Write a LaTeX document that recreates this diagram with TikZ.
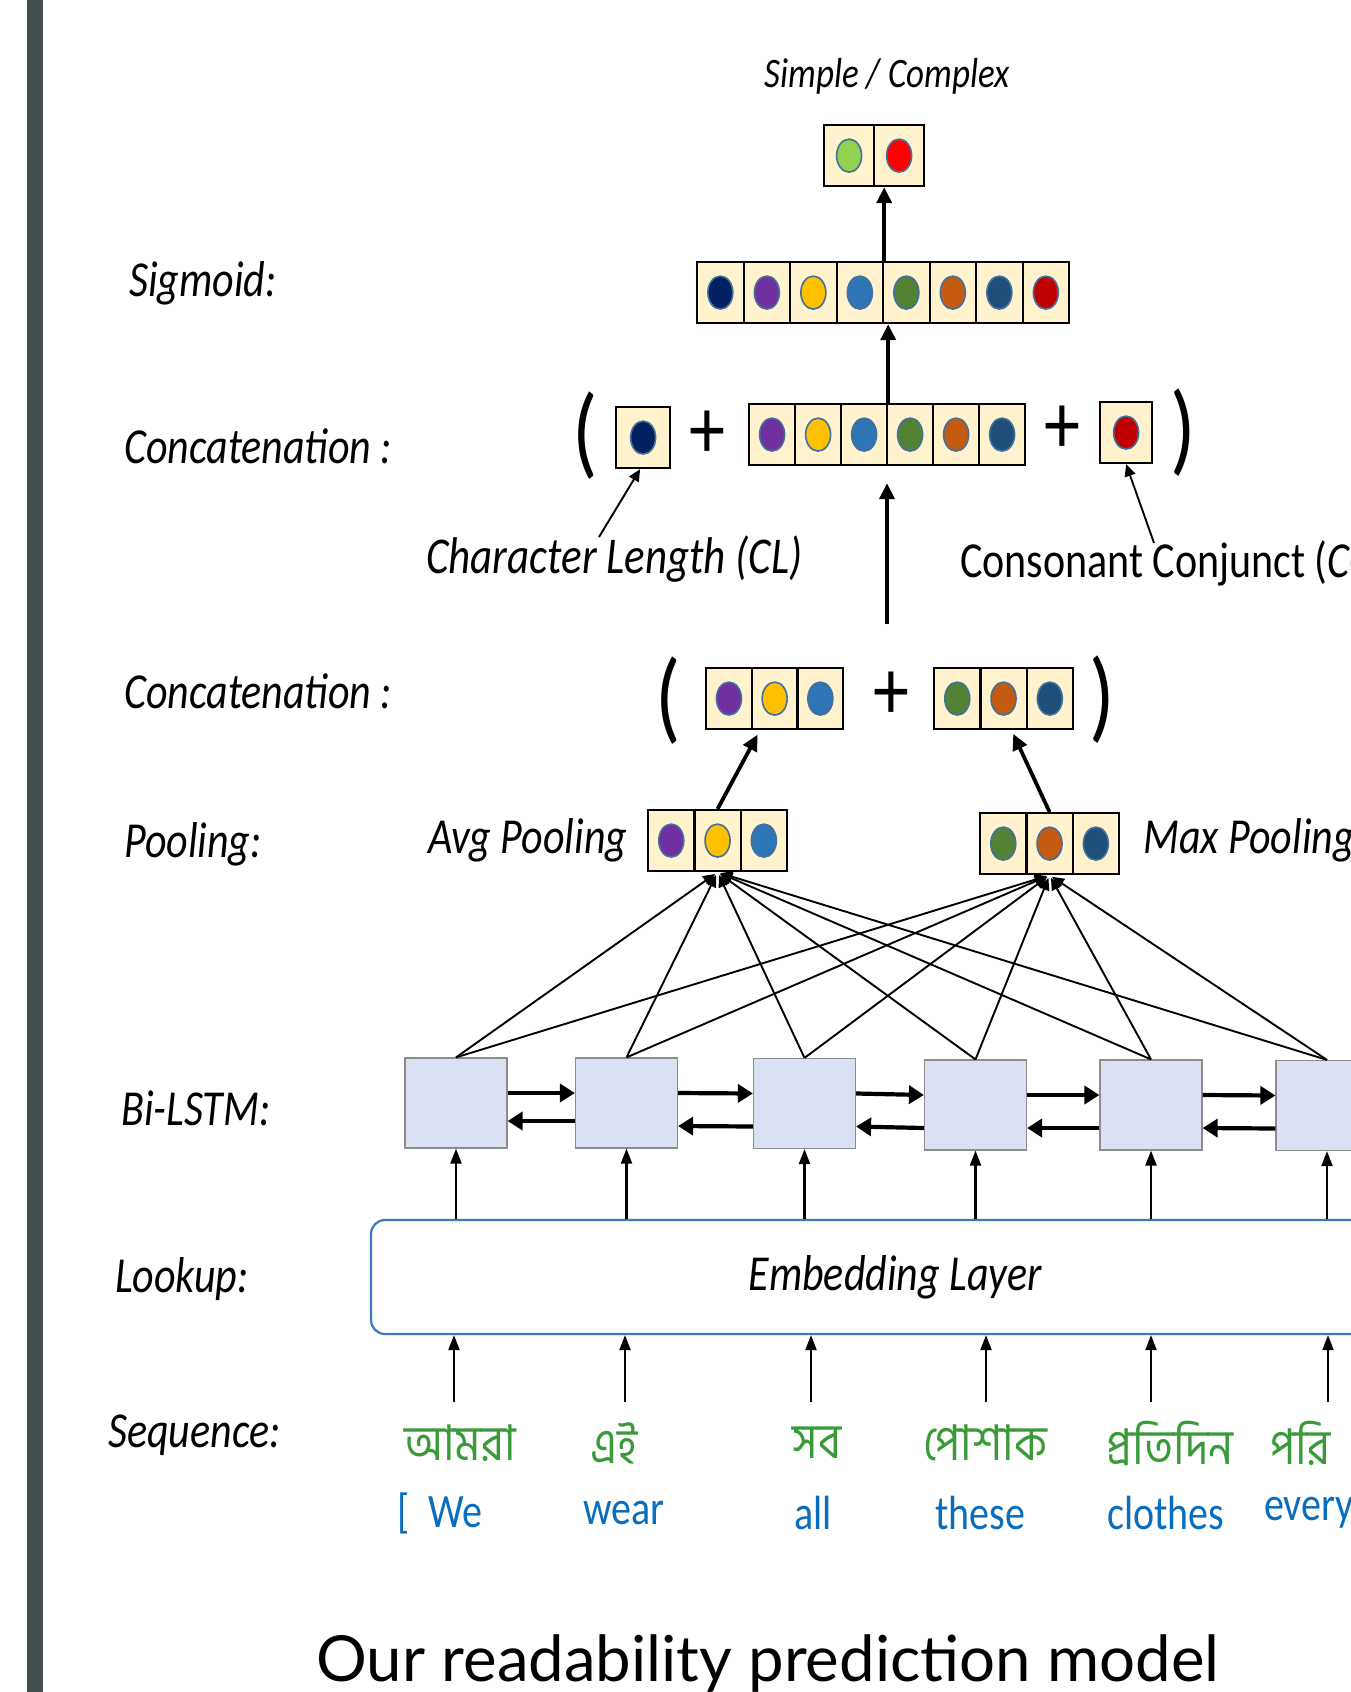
\documentclass[tikz,border=0pt]{standalone}
\usepackage{graphicx}
\usepackage{fontspec}
\setmainfont{Carlito}
\newfontfamily\bnfont[Script=Bengali]{Hind Siliguri}
\newfontfamily\latofont{Lato}
\usetikzlibrary{arrows.meta,shapes.geometric}
\definecolor{cellfill}{HTML}{FFF2CC}
\definecolor{dotline}{HTML}{41719C}
\definecolor{cNavy}{HTML}{002060}
\definecolor{cPurple}{HTML}{7030A0}
\definecolor{cYellow}{HTML}{FFC000}
\definecolor{cBlue}{HTML}{2E75B6}
\definecolor{cGreen}{HTML}{548235}
\definecolor{cOrange}{HTML}{C55A11}
\definecolor{cDark}{HTML}{1F4E79}
\definecolor{cRed}{HTML}{C00000}
\definecolor{cLime}{HTML}{92D050}
\definecolor{cBright}{HTML}{FF0000}
\definecolor{lstmfill}{HTML}{DAE1F2}
\definecolor{lstmline}{HTML}{8C8C8C}
\definecolor{embline}{HTML}{3C78BE}
\definecolor{bngreen}{HTML}{3A9A3A}
\definecolor{enblue}{HTML}{0A6EBE}
\definecolor{barcol}{HTML}{434D50}
\newcommand{\vs}[1]{\scalebox{1}[1.2]{#1}}
\newcommand{\cellrow}[5]{%
  \foreach \c [count=\i] in {#5} {
    \node[cellbox, minimum width=#4pt] (#1-\i) at ({#2+(\i-1)*#4}, #3) {};
    \node[dot, fill=\c] (#1-d\i) at (#1-\i.center) {};
  }%
}
\tikzset{
  lbl/.style={font=\fontsize{42}{50}\selectfont\itshape, inner sep=0, anchor=west},
  cellbox/.style={draw=black, line width=2.2pt, fill=cellfill, minimum height=61pt, inner sep=0, anchor=north west},
  dot/.style={ellipse, minimum width=25pt, minimum height=33pt, inner sep=0, draw=dotline, line width=1.6pt},
  bigarrow/.style={line width=3.8pt, -{Triangle[length=16pt,width=15pt]}},
  thinarrow/.style={line width=1.9pt, -{Triangle[length=12pt,width=11pt]}},
  lstmbox/.style={draw=lstmline, line width=1.2pt, fill=lstmfill, minimum width=102pt, minimum height=90pt, inner sep=0},
  lstmarrow/.style={line width=4.2pt, -{Triangle[length=15pt,width=18pt]}},
  uparrow/.style={line width=2.2pt, -{Triangle[length=15pt,width=11pt]}},
  paren/.style={font=\fontsize{84}{90}\selectfont, inner sep=0},
  plus/.style={font=\fontsize{72}{80}\selectfont, inner sep=0},
  bnword/.style={font=\bnfont\fontsize{44}{50}\selectfont, text=bngreen, inner sep=0},
  enword/.style={font=\fontsize{40}{46}\selectfont, text=enblue, inner sep=0},
}
\begin{document}
\begin{tikzpicture}[x=1pt,y=-1pt]
\useasboundingbox (0,0) rectangle (1351,1692);
\clip (0,0) rectangle (1351,1692);
\fill[white] (0,0) rectangle (1351,1692);
\fill[barcol] (27,0) rectangle (43,1692);

% left labels
\node[lbl] (lsig) at (129,283) {\vs{Sigmoid:}};
\node[lbl] (lcat1) at (124,446) {\vs{Concatenation :}};
\node[lbl] (lcat2) at (124,691) {\vs{Concatenation :}};
\node[lbl] (lpool) at (124,844) {\vs{Pooling:}};
\node[lbl] (llstm) at (121,1108) {\vs{Bi-LSTM:}};
\node[lbl] (llook) at (115,1279) {\vs{Lookup:}};
\node[lbl] (lseq) at (108,1435) {\vs{Sequence:}};

% output
\node[font=\fontsize{35}{40}\selectfont\itshape, inner sep=0] (sc) at (887,76) {\vs{Simple / Complex}};
\cellrow{out}{823}{124}{50}{cLime,cBright}
% sigmoid
\cellrow{sig}{696}{261}{46.5}{cNavy,cPurple,cYellow,cBlue,cGreen,cOrange,cDark,cRed}
% concatenation 1
\node[paren] (pa1) at (585,436) {\vs{(}};
\cellrow{cl}{615}{406}{54}{cNavy}
\node[plus] (pl1) at (707,435) {\vs{+}};
\cellrow{cat}{748}{403}{46}{cPurple,cYellow,cBlue,cGreen,cOrange,cDark}
\node[plus] (pl2) at (1062,430) {\vs{+}};
\cellrow{cc}{1099}{401}{52}{cRed}
\node[paren] (pb1) at (1183,433) {\vs{)}};
\node[lbl, font=\fontsize{43}{50}\selectfont\itshape] (cllab) at (426,559) {\vs{Character Length (CL)}};
\node[lbl, font=\fontsize{42}{50}\selectfont] (cclab) at (960,563) {\vs{Consonant Conjunct (\textit{CC})}};
\coordinate (clfoot) at (599,537);
\coordinate (ccfoot) at (1154,543);
\coordinate (catin) at (887,624);

% concatenation 2
\node[paren] (pa2) at (668,701) {\vs{(}};
\cellrow{ca}{705}{667}{45.7}{cPurple,cYellow,cBlue}
\node[plus] (pl3) at (891,696) {\vs{+}};
\cellrow{cb}{933}{667}{46.3}{cGreen,cOrange,cDark}
\node[paren] (pb2) at (1102,700) {\vs{)}};

% pooling
\node[lbl] (avglab) at (428,840) {\vs{Avg Pooling}};
\cellrow{avg}{647}{809}{46.3}{cPurple,cYellow,cBlue}
\cellrow{max}{979}{812}{46.3}{cGreen,cOrange,cDark}
\node[lbl] (maxlab) at (1143,840) {\vs{Max Pooling}};

% Bi-LSTM
\node[lstmbox] (l1) at (456,1103) {};
\node[lstmbox] (l2) at (626.5,1103) {};
\node[lstmbox] (l3) at (804.5,1103.5) {};
\node[lstmbox] (l4) at (975.5,1105) {};
\node[lstmbox] (l5) at (1151,1105) {};
\node[lstmbox] (l6) at (1327,1105.5) {};

% embedding
\node[draw=embline, line width=2.2pt, rounded corners=14pt, minimum width=1049pt, minimum height=114pt, inner sep=0, font=\fontsize{42}{50}\selectfont\itshape] (emb) at (895.5,1277) {\vs{Embedding Layer}};

% words
\node[bnword] (b1) at (460,1443) {\scalebox{1}[1.12]{আমরা}};
\node[bnword] (b2) at (614,1443) {\scalebox{1}[1.12]{এই}};
\node[bnword] (b3) at (817,1443) {\scalebox{1}[1.12]{সব}};
\node[bnword] (b4) at (985,1443) {\scalebox{1}[1.12]{পোশাক}};
\node[bnword] (b5) at (1170,1443) {\scalebox{1}[1.12]{প্রতিদিন}};
\node[bnword, anchor=west] (b6) at (1270,1443) {\scalebox{1}[1.12]{পরি}};
\node[enword] (e1) at (440,1513) {\vs{[\ \ We}};
\node[enword] (e2) at (624,1513) {\vs{wear}};
\node[enword] (e3) at (813,1513) {\vs{all}};
\node[enword] (e4) at (980,1513) {\vs{these}};
\node[enword] (e5) at (1166,1513) {\vs{clothes}};
\node[enword, anchor=west] (e6) at (1264,1513) {\vs{every}};

\coordinate (a1) at (454,1402);
\coordinate (a2) at (625,1402);
\coordinate (a3) at (811,1402);
\coordinate (a4) at (986,1402);
\coordinate (a5) at (1151,1402);
\coordinate (a6) at (1328,1402);

% title
\node[font=\latofont\fontsize{63.5}{70}\selectfont, anchor=base, inner sep=0] (title) at (768,1681) {Our readability prediction model};

% ---- connectors ----
\draw[bigarrow] (sig-4.north east) -- (sig-4.north east |- out-1.south);
\draw[bigarrow] (cat-3.north east) -- (cat-3.north east |- sig-4.south);
\draw[bigarrow, shorten >=17pt] (catin) -- (catin |- cat-4.south);
\draw[thinarrow] (clfoot) -- ([xshift=-3pt]cl-1.south);
\draw[thinarrow] (ccfoot) -- (cc-1.south);
\draw[bigarrow, shorten >=5pt] (avg-2.north) -- ([xshift=7pt]ca-1.south east);
\draw[bigarrow, shorten >=4pt] (max-2.north) -- ([xshift=8pt]cb-2.south);

\foreach \k in {1,...,6} {
  \draw[thinarrow, shorten >=3pt] (l\k.north) -- (avg-2.south);
  \draw[thinarrow, shorten >=3pt] (l\k.north) -- (max-2.south);
}
\foreach \a/\b in {1/2,2/3,3/4,4/5,5/6} {
  \draw[lstmarrow] ([yshift=10pt]l\a.east) -- ([yshift=10pt]l\b.west);
}
\draw[lstmarrow] ([yshift=-18pt]l2.west) -- ([yshift=-18pt]l1.east);
\foreach \a/\b in {3/2,4/3,5/4,6/5} {
  \draw[lstmarrow] ([yshift=-23pt]l\a.west) -- ([yshift=-23pt]l\b.east);
}
\foreach \k in {1,...,6} {
  \draw[uparrow] (l\k.south |- emb.north) -- (l\k.south);
  \draw[uparrow] (a\k) -- (a\k |- emb.south);
}
\end{tikzpicture}
\end{document}
